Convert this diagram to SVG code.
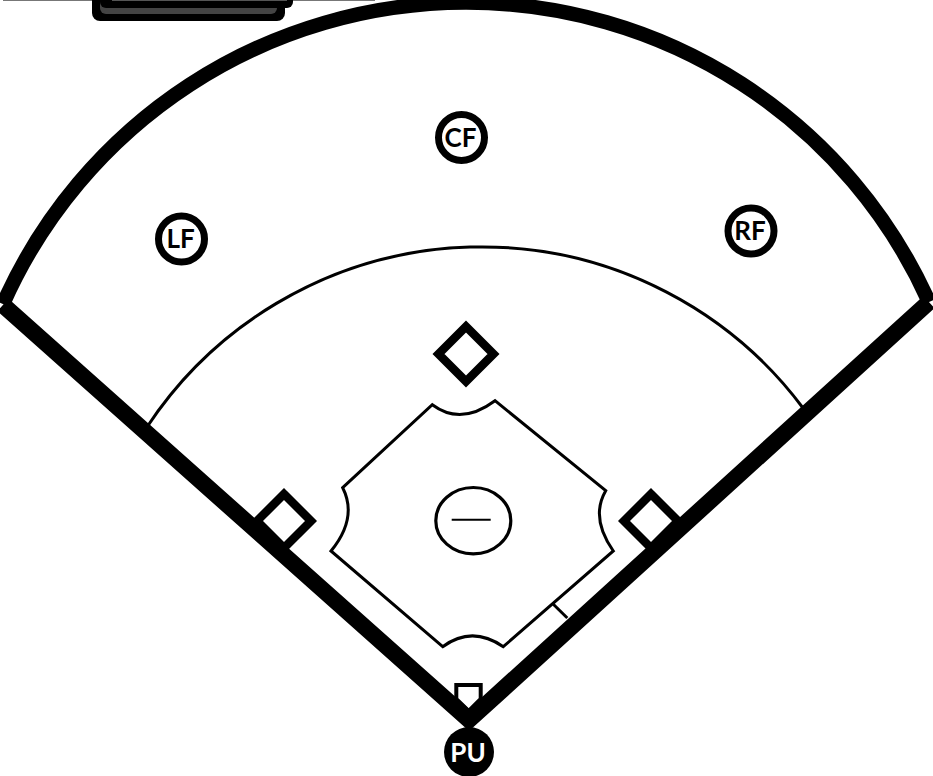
<svg xmlns="http://www.w3.org/2000/svg" width="933" height="776" viewBox="0 0 933 776">
<style>
.bg{fill:#fff}
.arc{fill:none;stroke:#000;stroke-width:14.500}
.foul{fill:none;stroke:#000;stroke-width:16.500;stroke-linejoin:miter;stroke-miterlimit:10}
.thin{fill:none;stroke:#000;stroke-width:3}
.base{fill:#fff;stroke:#000;stroke-width:8.500;stroke-linejoin:miter}
.player{fill:#fff;stroke:#000;stroke-width:7}
.label{font-family:"Lato","Liberation Sans",sans-serif;font-weight:700;font-size:26px;text-anchor:middle;fill:#000}
</style>
<rect class="bg" width="933" height="776"/>
<g id="top-fragment">
<rect x="3" y="0" width="372" height="1" fill="#777"/>
<rect x="92" y="-20" width="193" height="41" rx="8" fill="#000"/>
<rect x="100" y="-20" width="177" height="34" rx="6" fill="#444"/>
<rect x="100" y="-20" width="193" height="28" rx="6" fill="#000"/>
<rect x="112" y="-5" width="175" height="6" fill="#555"/>
</g>
<g id="field">
<path id="infield-arc" class="thin" d="M147 427A401 401 0 0 1 803 408"/>
<path id="infield" d="M432.300 404.700Q461 426 495 400.700L605.700 490.700Q590 518 613.300 551L503.300 646.700Q472 625 442.700 646.700L331 551Q358 518 342.700 487.700Z" fill="none" stroke="#000" stroke-width="3"/>
<ellipse id="mound" cx="473.300" cy="520.700" rx="37.500" ry="33.200" fill="none" stroke="#000" stroke-width="3.200"/>
<line id="rubber" x1="451.700" y1="519.700" x2="490.700" y2="519.700" stroke="#000" stroke-width="2"/>
<line id="tick" x1="553.300" y1="604.300" x2="567.300" y2="618" stroke="#000" stroke-width="3"/>
</g>
<g id="second-base"><path class="base" d="M466 326.500L493.500 354L466 381.500L438.500 354Z"/></g>
<g id="third-base"><path class="base" d="M284 494L311 521L284 548L257 521Z"/></g>
<g id="first-base"><path class="base" d="M651 494L678 521L651 548L624 521Z"/></g>
<g id="home-plate"><path d="M456.300 685V699L468.700 711L480.700 699V685Z" fill="#fff" stroke="#000" stroke-width="4"/></g>
<g id="boundary">
<path class="arc" d="M3 304A507 507 0 0 1 929 302"/>
<path class="foul" d="M3 305L469 720L929 302"/>
</g>
<g id="CF"><circle class="player" cx="461.500" cy="137.500" r="23"/><text class="label" x="460.500" y="146.500">CF</text></g>
<g id="LF"><circle class="player" cx="181.500" cy="239" r="23"/><text class="label" x="180.500" y="248">LF</text></g>
<g id="RF"><circle class="player" cx="751" cy="231" r="23"/><text class="label" x="750" y="240">RF</text></g>
<g id="PU"><circle cx="469" cy="752" r="25" fill="#000"/><text class="label" x="468" y="761.500" style="fill:#fff">PU</text></g>
</svg>
